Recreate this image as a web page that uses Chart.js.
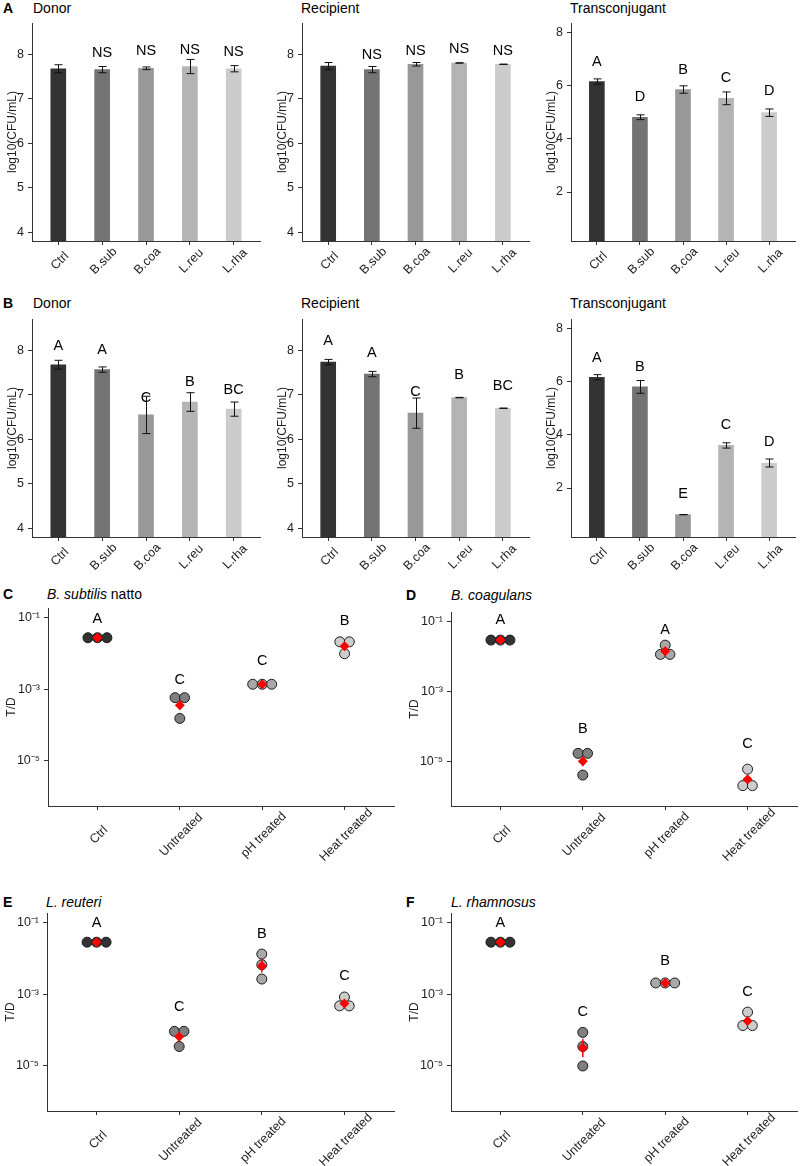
<!DOCTYPE html>
<html>
<head>
<meta charset="utf-8">
<script src="https://cdn.jsdelivr.net/npm/chart.js@4.4.0/dist/chart.umd.min.js"></script>
<style>
  body { margin: 0; background: #fff; width: 800px; height: 1166px; position: relative; overflow: hidden;
         font-family: "Liberation Sans", Arial, sans-serif; }
  canvas { position: absolute; }
  .t { position: absolute; font-size: 14px; line-height: 16px; color: #000; white-space: nowrap; }
  .t b { font-weight: bold; }
</style>
</head>
<body>
<div class="t" style="left:3px;top:0px"><b>A</b></div>
<div class="t" style="left:33px;top:0px">Donor</div>
<div class="t" style="left:301px;top:0px">Recipient</div>
<div class="t" style="left:570px;top:0px">Transconjugant</div>
<div class="t" style="left:3px;top:295px"><b>B</b></div>
<div class="t" style="left:33px;top:295px">Donor</div>
<div class="t" style="left:301px;top:295px">Recipient</div>
<div class="t" style="left:570px;top:295px">Transconjugant</div>
<div class="t" style="left:3px;top:586px"><b>C</b></div>
<div class="t" style="left:47px;top:586px"><i>B. subtilis</i> natto</div>
<div class="t" style="left:406px;top:587px"><b>D</b></div>
<div class="t" style="left:451px;top:587px"><i>B. coagulans</i></div>
<div class="t" style="left:3px;top:894px"><b>E</b></div>
<div class="t" style="left:46px;top:894px"><i>L. reuteri</i></div>
<div class="t" style="left:406px;top:894px"><b>F</b></div>
<div class="t" style="left:451px;top:894px"><i>L. rhamnosus</i></div>
<script>
// ---- bar panels (A, B) ----
const barCats = ['Ctrl', 'B.sub', 'B.coa', 'L.reu', 'L.rha'];
const barColors = ['#333333', '#737373', '#989898', '#b4b4b4', '#cccccc'];
const cfuTicks = [4, 5, 6, 7, 8];
const transTicks = [2, 4, 6, 8];

const donorA = [7.68, 7.66, 7.69, 7.73, 7.68];
const donorAErr = [0.09, 0.07, 0.03, 0.16, 0.07];
const donorALetters = ['', 'NS', 'NS', 'NS', 'NS'];
const donorALetterY = [0, 8.03, 8.07, 8.11, 8.05];

const recipA = [7.74, 7.66, 7.78, 7.81, 7.78];
const recipAErr = [0.08, 0.07, 0.04, 0.005, 0.005];
const recipALetters = ['', 'NS', 'NS', 'NS', 'NS'];
const recipALetterY = [0, 7.98, 8.09, 8.12, 8.07];

const transA = [6.15, 4.81, 5.85, 5.52, 4.98];
const transAErr = [0.1, 0.09, 0.14, 0.24, 0.14];
const transALetters = ['A', 'D', 'B', 'C', 'D'];
const transALetterY = [6.9, 5.58, 6.6, 6.29, 5.79];

const donorB = [7.68, 7.57, 6.55, 6.84, 6.68];
const donorBErr = [0.1, 0.06, 0.42, 0.21, 0.16];
const donorBLetters = ['A', 'A', 'C', 'B', 'BC'];
const donorBLetterY = [8.11, 8.02, 6.94, 7.29, 7.12];

const recipB = [7.74, 7.47, 6.59, 6.94, 6.70];
const recipBErr = [0.06, 0.06, 0.34, 0.005, 0.005];
const recipBLetters = ['A', 'A', 'C', 'B', 'BC'];
const recipBLetterY = [8.22, 7.95, 7.07, 7.45, 7.21];

const transB = [6.16, 5.80, 1.0, 3.60, 2.94];
const transBErr = [0.1, 0.24, 0.005, 0.1, 0.15];
const transBLetters = ['A', 'B', 'E', 'C', 'D'];
const transBLetterY = [6.9, 6.56, 1.79, 4.37, 3.72];

// ---- T/D panels (C-F) ----
const trtCats = ['Ctrl', 'Untreated', 'pH treated', 'Heat treated'];
const dotColors = ['#333333', '#7f7f7f', '#a8a8a8', '#cccccc'];
const logTicks = [1e-5, 1e-3, 1e-1];
const logTickLabels = ['10⁻⁵', '10⁻³', '10⁻¹'];

const subReps = [[2.8e-2, 2.8e-2, 2.8e-2], [5.9e-4, 5.9e-4, 1.55e-4], [1.4e-3, 1.4e-3, 1.4e-3], [2.15e-2, 2.15e-2, 1.0e-2]];
const subMean = [2.8e-2, 3.6e-4, 1.4e-3, 1.62e-2];
const subLo = [2.8e-2, 2.75e-4, 1.4e-3, 1.4e-2];
const subHi = [2.8e-2, 4.7e-4, 1.4e-3, 1.9e-2];
const subLetters = ['A', 'C', 'C', 'B'];
const subLetterY = [9.1e-2, 1.8e-3, 6.3e-3, 8.1e-2];

const coaReps = [[3.0e-2, 3.0e-2, 3.0e-2], [1.75e-5, 1.75e-5, 4.2e-6], [2.15e-2, 1.17e-2, 1.17e-2], [6.2e-6, 2.1e-6, 2.1e-6]];
const coaMean = [3.0e-2, 1.05e-5, 1.45e-2, 3.2e-6];
const coaLo = [3.0e-2, 7.5e-6, 1.2e-2, 2.45e-6];
const coaHi = [3.0e-2, 1.45e-5, 1.75e-2, 4.2e-6];
const coaLetters = ['A', 'B', 'A', 'C'];
const coaLetterY = [1.12e-1, 8.5e-5, 5.75e-2, 3.2e-5];

const reuReps = [[2.9e-2, 2.9e-2, 2.9e-2], [9.3e-5, 9.3e-5, 3.5e-5], [1.35e-2, 6.8e-3, 2.7e-3], [8.5e-4, 4.8e-4, 4.8e-4]];
const reuMean = [2.9e-2, 6.6e-5, 6.3e-3, 5.6e-4];
const reuLo = [2.9e-2, 4.9e-5, 4.1e-3, 4.8e-4];
const reuHi = [2.9e-2, 8.9e-5, 9.8e-3, 6.6e-4];
const reuLetters = ['A', 'C', 'B', 'C'];
const reuLetterY = [1.0e-1, 4.6e-4, 5.0e-2, 3.2e-3];

const rhaReps = [[2.9e-2, 2.9e-2, 2.9e-2], [8.7e-5, 3.5e-5, 1.0e-5], [2.1e-3, 2.1e-3, 2.1e-3], [3.2e-4, 1.35e-4, 1.35e-4]];
const rhaMean = [2.9e-2, 3.2e-5, 2.1e-3, 1.8e-4];
const rhaLo = [2.9e-2, 1.75e-5, 2.1e-3, 1.4e-4];
const rhaHi = [2.9e-2, 5.8e-5, 2.1e-3, 2.3e-4];
const rhaLetters = ['A', 'C', 'B', 'C'];
const rhaLetterY = [1.0e-1, 3.2e-4, 8.9e-3, 1.2e-3];

const FONT = '"Liberation Sans", Arial, sans-serif';
const INK = '#1e1e1e';
const AXIS = '#333';
Chart.defaults.font.family = FONT;

function makeCanvas(rect, yw, xh) {
  const c = document.createElement('canvas');
  c.width = rect.r - rect.l + yw + 6;
  c.height = rect.b - rect.t + 10 + xh;
  c.style.left = (rect.l - yw) + 'px';
  c.style.top = (rect.t - 10) + 'px';
  document.body.appendChild(c);
  return c;
}

function xAxis(cats, xh) {
  return {
    type: 'linear', min: 0.4, max: cats.length + 0.6, bounds: 'data', offset: false,
    afterBuildTicks: s => { s.ticks = cats.map((c, i) => ({ value: i + 1 })); },
    afterFit: s => { s.height = xh; s.paddingLeft = 0; s.paddingRight = 0; },
    ticks: { display: false },
    grid: { display: true, offset: false, drawOnChartArea: false, drawTicks: true, tickLength: 4, color: AXIS },
    border: { display: true, color: AXIS, width: 1 }
  };
}

function yAxis(type, min, max, ticks, fmt, title, yw, titlePad) {
  return {
    type, min, max, bounds: 'data',
    afterBuildTicks: s => { s.ticks = ticks.map(v => ({ value: v })); },
    afterFit: s => { s.width = yw; s.paddingTop = 0; s.paddingBottom = 0; },
    ticks: { padding: 4, color: INK, font: { size: 12.5 }, callback: fmt },
    grid: { display: true, drawOnChartArea: false, drawTicks: true, tickLength: 4, color: AXIS },
    border: { display: true, color: AXIS, width: 1 },
    title: { display: true, text: title, color: INK, font: { size: 12 }, padding: { top: titlePad, bottom: 0 } }
  };
}

// category names at 45 degrees, centred under their tick
function drawXLabels(chart, cats, drop) {
  const { ctx, scales: { x } } = chart;
  ctx.save();
  ctx.fillStyle = INK;
  ctx.font = '12.5px ' + FONT;
  ctx.textAlign = 'center';
  ctx.textBaseline = 'middle';
  cats.forEach((c, i) => {
    ctx.save();
    ctx.translate(x.getPixelForValue(i + 1) + 1.5, x.top + drop);
    ctx.rotate(-Math.PI / 4);
    ctx.fillText(c, 0, 0);
    ctx.restore();
  });
  ctx.restore();
}

function barPanel(rect, yw, vals, errs, letters, letterY, min, max, ticks) {
  const canvas = makeCanvas(rect, yw, 44);
  new Chart(canvas, {
    type: 'bar',
    data: {
      datasets: [{
        data: vals.map((v, i) => ({ x: i + 1, y: v })),
        backgroundColor: barColors,
        barThickness: 15
      }]
    },
    options: {
      responsive: false, animation: false,
      layout: { padding: { top: 10, right: 6, left: 0, bottom: 0 } },
      plugins: { legend: { display: false }, tooltip: { enabled: false } },
      scales: {
        x: xAxis(barCats, 44),
        y: yAxis('linear', min, max, ticks, v => String(v), 'log10(CFU/mL)', yw, yw - 27)
      }
    },
    plugins: [{
      id: 'barMarks',
      afterDatasetsDraw(chart) {
        const { ctx, scales: { x, y } } = chart;
        ctx.save();
        ctx.strokeStyle = '#111';
        ctx.lineWidth = 1;
        vals.forEach((v, i) => {
          const px = Math.round(x.getPixelForValue(i + 1)) + 0.5;
          const hi = y.getPixelForValue(v + errs[i]);
          const lo = y.getPixelForValue(v - errs[i]);
          ctx.beginPath();
          ctx.moveTo(px, hi); ctx.lineTo(px, lo);
          ctx.moveTo(px - 4, hi); ctx.lineTo(px + 4, hi);
          ctx.moveTo(px - 4, lo); ctx.lineTo(px + 4, lo);
          ctx.stroke();
        });
        ctx.fillStyle = '#000';
        ctx.font = '14.5px ' + FONT;
        ctx.textAlign = 'center';
        ctx.textBaseline = 'middle';
        letters.forEach((t, i) => {
          if (t) ctx.fillText(t, x.getPixelForValue(i + 1), y.getPixelForValue(letterY[i]));
        });
        ctx.restore();
        drawXLabels(chart, barCats, 20);
      }
    }]
  });
}

// spread replicates that share a bin sideways, like a centred dotplot
function dotOffsets(vals) {
  const bins = [];
  vals.forEach((v, i) => {
    const lv = Math.log10(v);
    let b = bins.find(b => Math.abs(b.lv - lv) < 0.1);
    if (!b) { b = { lv, idx: [] }; bins.push(b); }
    b.idx.push(i);
  });
  const off = vals.map(() => 0);
  bins.forEach(b => b.idx.forEach((i, k) => { off[i] = (k - (b.idx.length - 1) / 2) * 0.115; }));
  return off;
}

function dotPanel(rect, reps, mean, lo, hi, letters, letterY) {
  const canvas = makeCanvas(rect, 48, 62);
  const pts = [], cols = [];
  reps.forEach((r, g) => {
    const off = dotOffsets(r);
    r.forEach((v, k) => { pts.push({ x: g + 1 + off[k], y: v }); cols.push(dotColors[g]); });
  });
  new Chart(canvas, {
    type: 'scatter',
    data: {
      datasets: [
        { data: mean.map((v, i) => ({ x: i + 1, y: v })), pointStyle: 'rectRot', pointRadius: 5,
          backgroundColor: '#ff0000', borderColor: '#ff0000', borderWidth: 0 },
        { data: pts, pointRadius: 5, backgroundColor: cols, borderColor: '#1a1a1a', borderWidth: 1 }
      ]
    },
    options: {
      responsive: false, animation: false,
      layout: { padding: { top: 10, right: 6, left: 0, bottom: 0 } },
      plugins: { legend: { display: false }, tooltip: { enabled: false } },
      scales: {
        x: xAxis(trtCats, 62),
        y: yAxis('logarithmic', 5.5e-7, 0.19, logTicks, (v, i) => logTickLabels[i], 'T/D', 48, 4)
      }
    },
    plugins: [{
      id: 'dotMarks',
      afterDatasetDraw(chart, args) {
        if (args.index !== 1) return;
        const { ctx, scales: { x, y } } = chart;
        ctx.save();
        ctx.strokeStyle = '#ff0000';
        ctx.lineWidth = 1.5;
        mean.forEach((v, i) => {
          const px = x.getPixelForValue(i + 1);
          ctx.beginPath();
          ctx.moveTo(px, y.getPixelForValue(hi[i]));
          ctx.lineTo(px, y.getPixelForValue(lo[i]));
          ctx.stroke();
        });
        ctx.restore();
      },
      afterDatasetsDraw(chart) {
        const { ctx, scales: { x, y } } = chart;
        ctx.save();
        ctx.fillStyle = '#000';
        ctx.font = '14.5px ' + FONT;
        ctx.textAlign = 'center';
        ctx.textBaseline = 'middle';
        letters.forEach((t, i) => ctx.fillText(t, x.getPixelForValue(i + 1), y.getPixelForValue(letterY[i])));
        ctx.restore();
        drawXLabels(chart, trtCats, 29);
      }
    }]
  });
}

barPanel({ l: 32, t: 23, r: 260, b: 241 }, 32, donorA, donorAErr, donorALetters, donorALetterY, 3.8, 8.71, cfuTicks);
barPanel({ l: 302, t: 23, r: 529, b: 241 }, 32, recipA, recipAErr, recipALetters, recipALetterY, 3.8, 8.71, cfuTicks);
barPanel({ l: 571, t: 23, r: 795, b: 241 }, 36, transA, transAErr, transALetters, transALetterY, 0.16, 8.35, transTicks);
barPanel({ l: 32, t: 319, r: 260, b: 537 }, 32, donorB, donorBErr, donorBLetters, donorBLetterY, 3.8, 8.71, cfuTicks);
barPanel({ l: 302, t: 319, r: 529, b: 537 }, 32, recipB, recipBErr, recipBLetters, recipBLetterY, 3.8, 8.71, cfuTicks);
barPanel({ l: 571, t: 319, r: 795, b: 537 }, 36, transB, transBErr, transBLetters, transBLetterY, 0.16, 8.35, transTicks);

dotPanel({ l: 48, t: 608, r: 394, b: 806 }, subReps, subMean, subLo, subHi, subLetters, subLetterY);
dotPanel({ l: 451, t: 612, r: 797, b: 806 }, coaReps, coaMean, coaLo, coaHi, coaLetters, coaLetterY);
dotPanel({ l: 47, t: 913, r: 394, b: 1111 }, reuReps, reuMean, reuLo, reuHi, reuLetters, reuLetterY);
dotPanel({ l: 451, t: 913, r: 797, b: 1111 }, rhaReps, rhaMean, rhaLo, rhaHi, rhaLetters, rhaLetterY);
</script>
</body>
</html>
